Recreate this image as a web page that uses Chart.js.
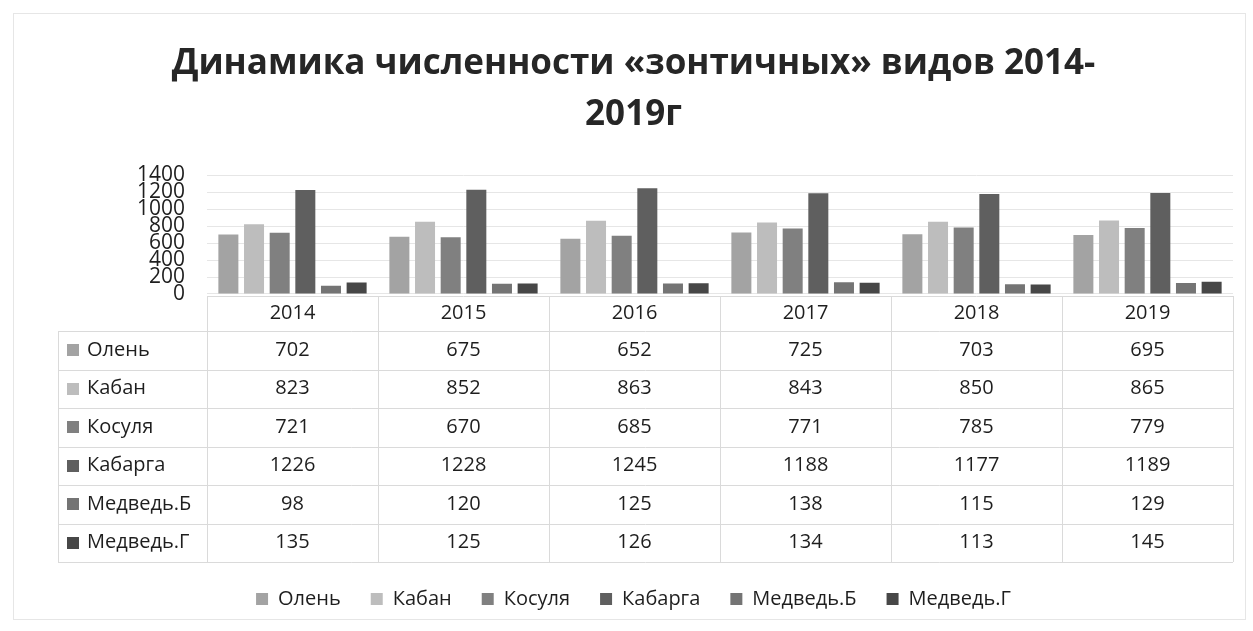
<!DOCTYPE html>
<html><head><meta charset="utf-8">
<script src="https://cdn.jsdelivr.net/npm/chart.js@4.4.1/dist/chart.umd.min.js"></script>
<style>html,body{margin:0;padding:0;background:#fff}#wrap{width:1253px;height:631px;position:relative}</style>
</head><body><div id="wrap"><canvas id="c"></canvas></div>
<script>
const years = ['2014','2015','2016','2017','2018','2019'];
const olen = [702,675,652,725,703,695];
const kaban = [823,852,863,843,850,865];
const kosulya = [721,670,685,771,785,779];
const kabarga = [1226,1228,1245,1188,1177,1189];
const medvedB = [98,120,125,138,115,129];
const medvedG = [135,125,126,134,113,145];
const seriesNames = ['Олень','Кабан','Косуля','Кабарга','Медведь.Б','Медведь.Г'];
const seriesColors = ['#a3a3a3','#bdbdbd','#808080','#5f5f5f','#747474','#474747'];
const yTickValues = [0,200,400,600,800,1000,1200,1400];
const titleLines = ['Динамика численности «зонтичных» видов 2014-','2019г'];

const FONT = '"Open Sans", "DejaVu Sans", sans-serif';
const seriesValues = [olen,kaban,kosulya,kabarga,medvedB,medvedG];

const framePlugin = {
  id:'frame',
  beforeDraw(chart){
    const ctx=chart.ctx;
    ctx.save();
    ctx.fillStyle='#fff'; ctx.fillRect(0,0,chart.width,chart.height);
    ctx.strokeStyle='#e6e6e6'; ctx.lineWidth=1;
    ctx.strokeRect(13.5,13.5,1232,606);
    ctx.restore();
  }
};

const tablePlugin = {
  id:'dataTable',
  afterDraw(chart){
    const ctx=chart.ctx, xs=chart.scales.x, area=chart.chartArea;
    const n=years.length, colW=(xs.right-xs.left)/n;
    const top=Math.round(area.bottom)+2, headH=35, rowH=38.5, tableLeft=58;
    const rows=chart.data.datasets;
    const bottom=top+headH+rowH*rows.length;
    ctx.save();
    ctx.strokeStyle='#dadada'; ctx.lineWidth=1;
    ctx.beginPath();
    ctx.moveTo(xs.left, top+0.5); ctx.lineTo(xs.right, top+0.5);
    for(let r=0;r<=rows.length;r++){
      const y=Math.round(top+headH+r*rowH)+0.5;
      ctx.moveTo(tableLeft,y); ctx.lineTo(xs.right,y);
    }
    for(let i=0;i<=n;i++){
      const x=Math.round(xs.left+i*colW)+0.5;
      ctx.moveTo(x,top); ctx.lineTo(x,bottom);
    }
    ctx.moveTo(tableLeft+0.5, top+headH); ctx.lineTo(tableLeft+0.5, bottom);
    ctx.stroke();
    ctx.font='20px '+FONT; ctx.textBaseline='middle';
    ctx.fillStyle='#1e1e1e'; ctx.textAlign='center';
    years.forEach((yr,i)=>ctx.fillText(yr, xs.getPixelForValue(i), top+headH/2));
    rows.forEach((ds,r)=>{
      const cy=top+headH+rowH*r+rowH/2;
      ctx.fillStyle=ds.backgroundColor; ctx.fillRect(67, Math.round(cy-6), 12, 12);
      ctx.fillStyle='#1e1e1e'; ctx.textAlign='left';
      ctx.fillText(ds.label, 87, cy);
      ctx.textAlign='center';
      ds.data.forEach((v,i)=>ctx.fillText(String(v), xs.getPixelForValue(i), cy));
    });
    ctx.restore();
  }
};

new Chart(document.getElementById('c'), {
  type:'bar',
  data:{
    labels: years,
    datasets: seriesNames.map((name,k)=>({
      label:name, data:seriesValues[k], backgroundColor:seriesColors[k],
      barPercentage:0.78, categoryPercentage:0.9
    }))
  },
  options:{
    responsive:true, maintainAspectRatio:false, animation:false, devicePixelRatio:1,
    layout:{padding:{left:34,right:20,top:0,bottom:12}},
    plugins:{
      tooltip:{enabled:false},
      title:{display:true, text:titleLines, color:'#262626',
        font:{family:FONT, size:35, weight:'bold', lineHeight:1.46},
        padding:{top:38,bottom:35}},
      legend:{display:true, position:'bottom',
        labels:{boxWidth:12, boxHeight:12, padding:30, color:'#1e1e1e',
          font:{family:FONT, size:20}}}
    },
    scales:{
      x:{
        ticks:{display:false}, grid:{display:false}, border:{display:false},
        afterFit(s){ s.height=265; }
      },
      y:{
        min:0, max:1400,
        afterBuildTicks(s){ s.ticks = yTickValues.map(v=>({value:v})); },
        ticks:{autoSkip:false, color:'#1e1e1e', padding:22, font:{family:FONT, size:21, lineHeight:1.0},
          callback:(v)=>String(v)},
        grid:{color:'#e6e6e6', drawTicks:false}, border:{display:false},
        afterFit(s){ s.width=173; }
      }
    }
  },
  plugins:[framePlugin, tablePlugin]
});
</script></body></html>
